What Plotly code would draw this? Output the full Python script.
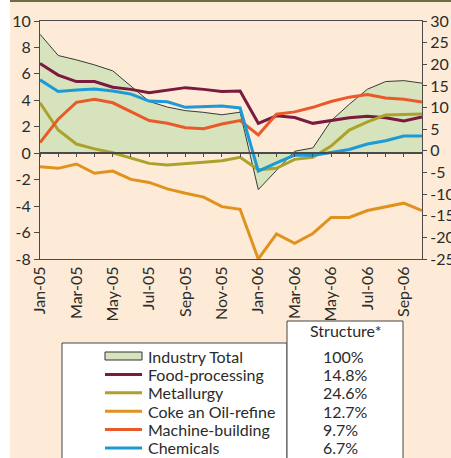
import plotly.graph_objects as go

# ---------------- data ----------------
months = ["Jan-05", "Feb-05", "Mar-05", "Apr-05", "May-05", "Jun-05", "Jul-05", "Aug-05",
          "Sep-05", "Oct-05", "Nov-05", "Dec-05", "Jan-06", "Feb-06", "Mar-06", "Apr-06",
          "May-06", "Jun-06", "Jul-06", "Aug-06", "Sep-06", "Oct-06"]
x_tick_labels = months[::2]

# left axis (%)
industry_total = [9.0, 7.39, 7.06, 6.68, 6.23, 5.05, 3.92, 3.49, 3.22, 3.09, 2.91, 3.1,
                  -2.75, -1.3, 0.15, 0.4, 2.45, 3.7, 4.84, 5.42, 5.49, 5.3]
# right axis (%)
food_processing = [20.2, 17.5, 16.0, 16.0, 14.7, 14.2, 13.4, 14.05, 14.6, 14.2, 13.7, 13.8,
                   6.35, 8.1, 7.7, 6.35, 7.0, 7.65, 8.0, 7.65, 6.9, 7.8]
metallurgy = [11.1, 4.8, 1.57, 0.45, -0.45, -1.74, -2.9, -3.3, -3.05, -2.66, -2.28, -1.5,
              -4.35, -4.05, -1.97, -1.5, 1.1, 4.8, 6.7, 8.27, 8.4, 8.5]
coke_oil = [-3.67, -4.05, -3.05, -5.2, -4.67, -6.6, -7.3, -8.8, -9.8, -10.7, -12.9, -13.5,
            -25.0, -19.2, -21.4, -19.1, -15.4, -15.4, -13.8, -12.9, -12.1, -13.8]
machine_building = [1.9, 7.3, 11.2, 11.9, 11.1, 9.0, 7.0, 6.35, 5.35, 5.1, 6.2, 7.0,
                    3.65, 8.45, 9.0, 10.05, 11.4, 12.4, 13.0, 12.2, 11.9, 11.3]
chemicals = [16.4, 13.7, 14.05, 14.3, 13.8, 13.1, 11.5, 11.35, 10.05, 10.2, 10.35, 9.9,
             -4.7, -2.8, -0.97, -1.1, -0.43, 0.3, 1.57, 2.33, 3.42, 3.42]

series_names = ["Industry Total", "Food-processing", "Metallurgy", "Coke an Oil-refine",
                "Machine-building", "Chemicals"]
structure_share = ["100%", "14.8%", "24.6%", "12.7%", "9.7%", "6.7%"]
structure_title = "Structure*"

left_ticks = [-8, -6, -4, -2, 0, 2, 4, 6, 8, 10]
right_ticks = [-25, -20, -15, -10, -5, 0, 5, 10, 15, 20, 25, 30]

# ---------------- styles ----------------
W, H = 451, 458
ML, MR, MT, MB = 40, 29, 21, 199
PW, PH = W - ML - MR, H - MT - MB
BG = "#FDEBD7"
AX = "#4a4a4a"
TXT = "#2b2b2b"
FONT = "Lato"
colors = ["#3a3a3a", "#7A1A3F", "#ACA22B", "#E0921F", "#E9592A", "#1C9AD6"]
fill_green = "#D6E3BC"


def px(x):
    return (x - ML) / PW


def py(y):
    return (H - MB - y) / PH


fig = go.Figure()
fig.add_trace(go.Scatter(x=months, y=industry_total, name=series_names[0], mode="lines",
                         line=dict(color=colors[0], width=1), fill="tozeroy",
                         fillcolor=fill_green, xaxis="x", yaxis="y", showlegend=False))
for name, vals, col in zip(series_names[1:],
                           [food_processing, metallurgy, coke_oil, machine_building, chemicals],
                           colors[1:]):
    fig.add_trace(go.Scatter(x=months, y=vals, name=name, mode="lines",
                             line=dict(color=col, width=3), xaxis="x2", yaxis="y2",
                             showlegend=False))

shapes = [
    # white strip left and dark band on top
    dict(type="rect", xref="paper", yref="paper", x0=px(-5), x1=px(10), y0=py(H + 5), y1=py(-5),
         fillcolor="white", line=dict(width=0), layer="above"),
    dict(type="rect", xref="paper", yref="paper", x0=px(10), x1=px(W + 5), y0=py(2), y1=py(-5),
         fillcolor="#6E6B48", line=dict(width=0), layer="above"),
    # legend boxes
    dict(type="rect", xref="paper", yref="paper", x0=px(62), x1=px(287), y0=py(343), y1=py(H + 10),
         fillcolor="white", line=dict(color="#444", width=1), layer="above"),
    dict(type="rect", xref="paper", yref="paper", x0=px(287), x1=px(403), y0=py(321), y1=py(H + 10),
         fillcolor="white", line=dict(color="#444", width=1), layer="above"),
]
annotations = [dict(text=structure_title, xref="paper", yref="paper", x=px(345), y=py(330),
                    xanchor="center", yanchor="middle", showarrow=False,
                    font=dict(family=FONT, size=16, color=TXT))]
row_y = [356, 374.4, 392.8, 411.2, 429.6, 448]
for i, (name, share) in enumerate(zip(series_names, structure_share)):
    yy = row_y[i]
    if i == 0:
        shapes.append(dict(type="rect", xref="paper", yref="paper", x0=px(105), x1=px(142),
                           y0=py(yy + 4), y1=py(yy - 4), fillcolor=fill_green,
                           line=dict(color="#333", width=1), layer="above"))
    else:
        shapes.append(dict(type="line", xref="paper", yref="paper", x0=px(105), x1=px(142),
                           y0=py(yy), y1=py(yy), line=dict(color=colors[i], width=3),
                           layer="above"))
    annotations.append(dict(text=name, xref="paper", yref="paper", x=px(146), y=py(yy),
                            xanchor="left", yanchor="middle", showarrow=False,
                            font=dict(family=FONT, size=16, color=TXT)))
    annotations.append(dict(text=share, xref="paper", yref="paper", x=px(321), y=py(yy),
                            xanchor="left", yanchor="middle", showarrow=False,
                            font=dict(family=FONT, size=16, color=TXT)))

fig.update_layout(
    template="none",
    width=W, height=H,
    margin=dict(l=ML, r=MR, t=MT, b=MB, pad=0),
    paper_bgcolor=BG, plot_bgcolor=BG,
    font=dict(family=FONT, size=16, color=TXT),
    showlegend=False,
    xaxis=dict(type="category", categoryorder="array", categoryarray=months,
               range=[0, len(months) - 1], anchor="free", position=8 / 18,
               showline=True, linecolor=AX, linewidth=1.5, ticks="outside", ticklen=3,
               tickcolor=AX, tickmode="linear", tick0=0, dtick=1, showticklabels=False,
               showgrid=False, zeroline=False, automargin=False),
    xaxis2=dict(type="category", categoryorder="array", categoryarray=months,
                range=[0, len(months) - 1], overlaying="x", anchor="y2", side="bottom",
                tickmode="array", tickvals=x_tick_labels, ticktext=x_tick_labels,
                tickangle=-90, ticks="", showline=True, mirror=True, linecolor=AX,
                linewidth=1, tickfont=dict(family=FONT, size=16, color=TXT),
                showgrid=False, zeroline=False, automargin=False),
    yaxis=dict(range=[-8, 10], anchor="x", side="left", tickmode="array",
               tickvals=left_ticks, ticktext=[str(v) for v in left_ticks],
               showline=True, linecolor=AX, linewidth=1, ticks="outside", ticklen=5,
               tickcolor=AX, tickfont=dict(family=FONT, size=16, color=TXT),
               showgrid=False, zeroline=False, automargin=False),
    yaxis2=dict(range=[-25, 30], overlaying="y", anchor="x2", side="right", tickmode="array",
                tickvals=right_ticks, ticktext=[str(v) for v in right_ticks],
                showline=True, linecolor=AX, linewidth=1, ticks="outside", ticklen=4,
                tickcolor=AX, tickfont=dict(family=FONT, size=16, color=TXT),
                showgrid=False, zeroline=False, automargin=False),
    shapes=shapes,
    annotations=annotations,
)

fig.write_html("out.html", config={"displayModeBar": False},
               post_script="document.body.style.margin='0';document.body.style.overflow='hidden';")
